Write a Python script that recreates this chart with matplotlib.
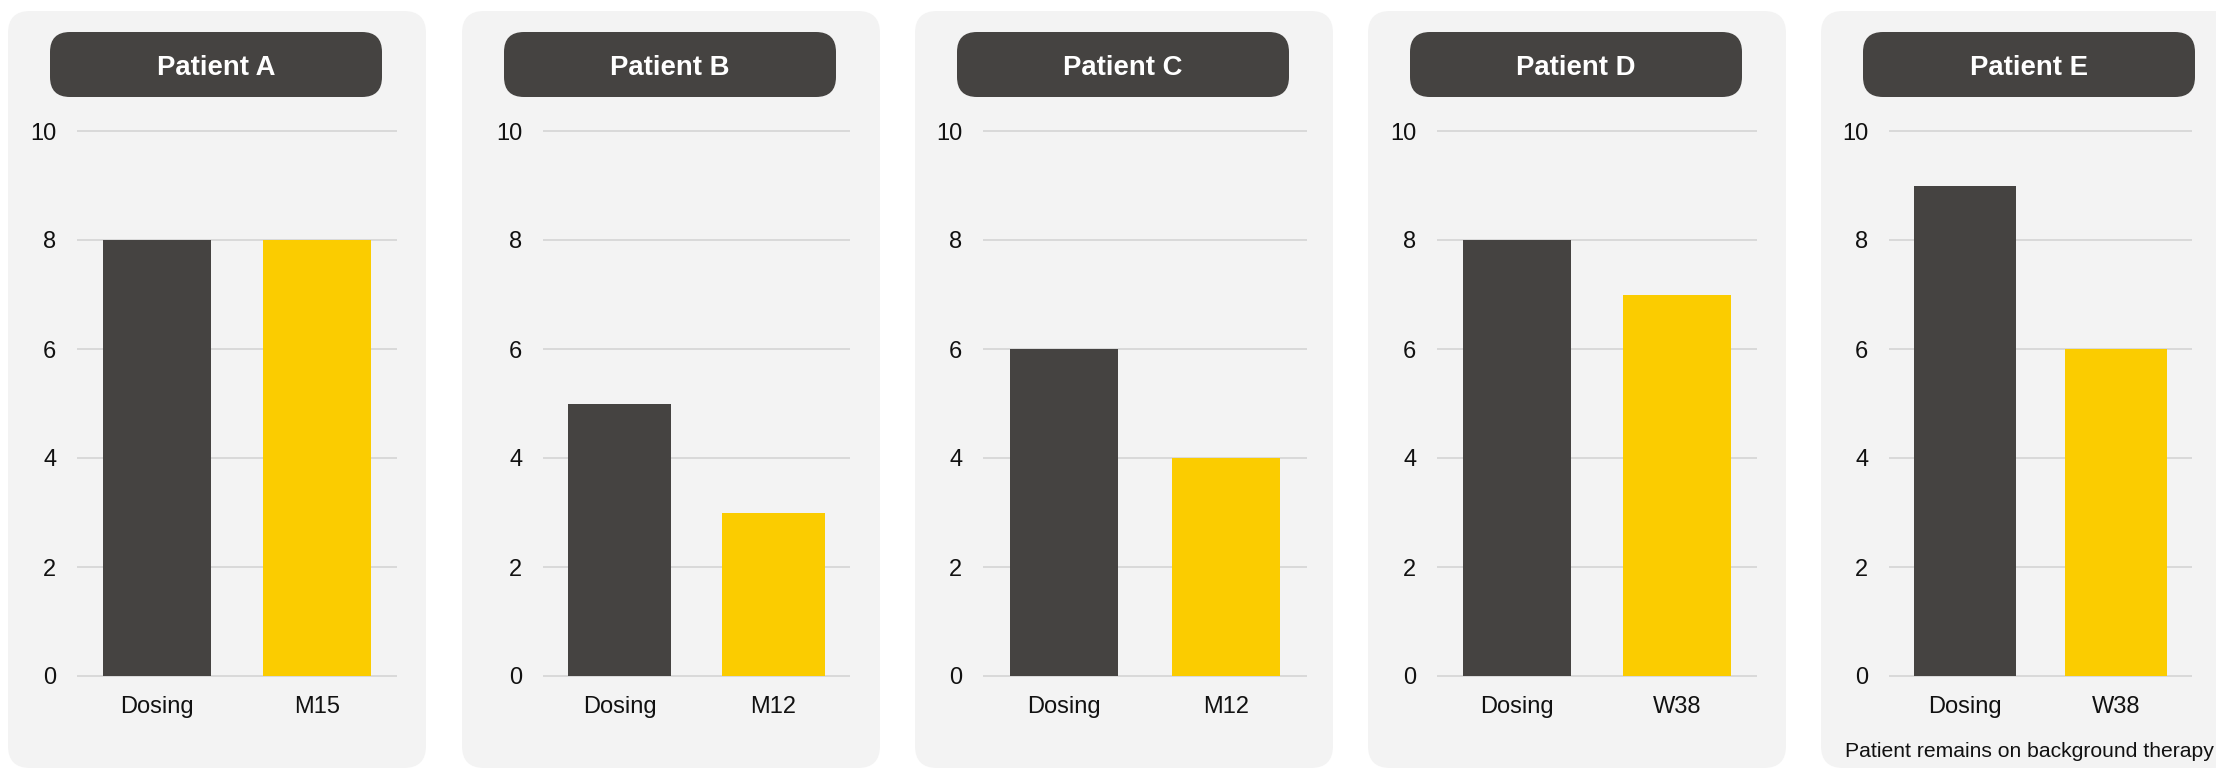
import matplotlib.pyplot as plt
from matplotlib.patches import FancyBboxPatch

# data
patients = ["Patient A", "Patient B", "Patient C", "Patient D", "Patient E"]
followup_labels = ["M15", "M12", "M12", "W38", "W38"]
dosing_scores = [8, 5, 6, 8, 9]
followup_scores = [8, 3, 4, 7, 6]
yticks = [0, 2, 4, 6, 8, 10]
footnote = "Patient remains on background therapy"

DARK = "#454341"
YELLOW = "#FBCC00"
PANEL_BG = "#F3F3F3"
GRID = "#D9D9D9"

plt.rcParams["font.family"] = ["Liberation Sans", "DejaVu Sans"]

W, H = 2216, 768
fig = plt.figure(figsize=(W / 100, H / 100), dpi=100)

# background layer in pixel coordinates (y down)
bg = fig.add_axes([0, 0, 1, 1])
bg.set_xlim(0, W)
bg.set_ylim(H, 0)
bg.axis("off")

panel_left = [8, 462, 915, 1368, 1821]
panel_w = 418
axes_x = [(77, 397), (543, 850), (983, 1307), (1437, 1757), (1889, 2192)]
y_top_px, y_zero_px = 131, 676
px_per_unit = (y_zero_px - y_top_px) / 10.0
ylo, yhi = -0.08, 10.2

for i, name in enumerate(patients):
    x0 = panel_left[i]
    bg.add_patch(FancyBboxPatch((x0, 11), panel_w, 757,
                                boxstyle="round,pad=0,rounding_size=22",
                                facecolor=PANEL_BG, edgecolor="none"))
    bg.add_patch(FancyBboxPatch((x0 + 42, 32), 332, 65,
                                boxstyle="round,pad=0,rounding_size=20",
                                facecolor=DARK, edgecolor="none"))
    bg.text(x0 + 42 + 166, 75, name, ha="center", va="baseline",
            color="white", fontsize=19.8, fontweight="bold")

    # chart axes placed by pixels
    ax_l, ax_r = axes_x[i]
    top_px = y_zero_px - yhi * px_per_unit
    bot_px = y_zero_px - ylo * px_per_unit
    ax = fig.add_axes([ax_l / W, 1 - bot_px / H, (ax_r - ax_l) / W, (bot_px - top_px) / H])
    ax.patch.set_alpha(0)
    ax.bar([0, 1], [dosing_scores[i], followup_scores[i]], width=0.67,
           color=[DARK, YELLOW], zorder=3)
    ax.set_xlim(-0.5, 1.5)
    ax.set_ylim(ylo, yhi)
    ax.set_yticks(yticks)
    ax.set_xticks([0, 1])
    ax.set_xticklabels(["Dosing", followup_labels[i]])
    ax.grid(axis="y", color=GRID, linewidth=1.4)
    ax.set_axisbelow(True)
    for s in ax.spines.values():
        s.set_visible(False)
    ax.tick_params(axis="both", length=0, labelsize=17, colors="#111111")
    ax.tick_params(axis="y", pad=15)
    ax.tick_params(axis="x", pad=11)

# slightly smaller than the reference so the whole note stays inside the image
bg.text(1845, 757, footnote, ha="left", va="baseline", fontsize=15.2, color="#111111")

fig.savefig("out.png", dpi=100)
